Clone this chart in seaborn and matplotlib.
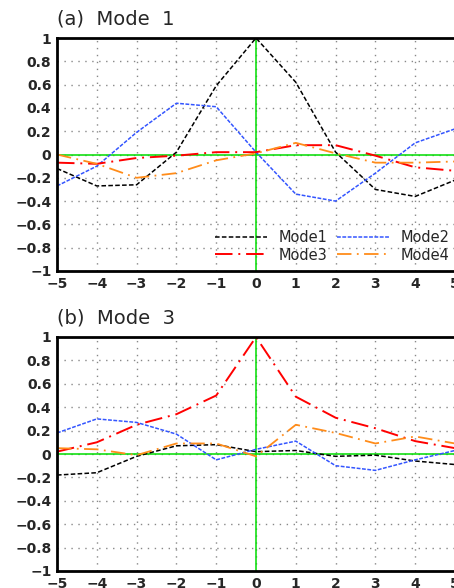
import numpy as np
import pandas as pd
import seaborn as sns
from matplotlib import pyplot as plt

# lags
lags = [-5, -4, -3, -2, -1, 0, 1, 2, 3, 4, 5]

# panel (a) Mode 1
a_mode1 = [-0.12, -0.27, -0.26, 0.02, 0.59, 1.0, 0.62, 0.02, -0.30, -0.36, -0.22]
a_mode2 = [-0.27, -0.10, 0.19, 0.44, 0.41, 0.02, -0.34, -0.40, -0.16, 0.10, 0.22]
a_mode3 = [-0.07, -0.08, -0.03, -0.01, 0.02, 0.02, 0.08, 0.08, -0.01, -0.11, -0.14]
a_mode4 = [0.0, -0.08, -0.20, -0.16, -0.05, 0.01, 0.10, 0.01, -0.07, -0.07, -0.06]

# panel (b) Mode 3
b_mode1 = [-0.18, -0.16, -0.02, 0.07, 0.08, 0.02, 0.03, -0.02, -0.01, -0.06, -0.09]
b_mode2 = [0.18, 0.30, 0.27, 0.17, -0.05, 0.04, 0.11, -0.10, -0.14, -0.05, 0.03]
b_mode3 = [0.02, 0.10, 0.25, 0.34, 0.50, 1.0, 0.49, 0.31, 0.22, 0.11, 0.05]
b_mode4 = [0.05, 0.04, -0.01, 0.09, 0.09, -0.02, 0.25, 0.18, 0.09, 0.15, 0.09]

series_names = ['Mode1', 'Mode2', 'Mode3', 'Mode4']
colors = ['black', '#3355ff', 'red', '#ff8c1a']
dashes = [(3, 1.5), (2.5, 1), (9, 3, 1, 3), (8, 3, 1, 3)]
widths = [1.1, 1.1, 1.4, 1.3]

sns.set_style('white')
plt.rcParams['font.family'] = ['DejaVu Sans']

fig = plt.figure(figsize=(4.54, 5.88), dpi=100)
ax1 = fig.add_axes([57 / 454, 1 - 271 / 588, 398 / 454, 233 / 588])
ax2 = fig.add_axes([57 / 454, 1 - 571 / 588, 398 / 454, 234 / 588])


def draw_panel(ax, values, title, legend=False):
    ax.axhline(0, color='#00dd00', lw=1.1, zorder=1)
    ax.axvline(0, color='#00dd00', lw=1.1, zorder=1)
    for name, vals, c, d, w in zip(series_names, values, colors, dashes, widths):
        df = pd.DataFrame({'lag': lags, 'corr': vals})
        line = sns.lineplot(data=df, x='lag', y='corr', ax=ax, color=c, lw=w, label=name, legend=False)
        line.lines[-1].set_dashes(d)
    ax.set_xlim(-5, 5)
    ax.set_ylim(-1, 1)
    ax.set_xticks(lags)
    ax.set_yticks(np.round(np.arange(-1, 1.01, 0.2), 1))
    ax.set_xticklabels(['\u22125', '\u22124', '\u22123', '\u22122', '\u22121', '0', '1', '2', '3', '4', '5'])
    ax.set_yticklabels(['\u22121', '\u22120.8', '\u22120.6', '\u22120.4', '\u22120.2', '0',
                        '0.2', '0.4', '0.6', '0.8', '1'])
    ax.set_xlabel('')
    ax.set_ylabel('')
    ax.grid(True, color='#888888', ls=(0, (1, 4)), lw=1.0)
    for s in ax.spines.values():
        s.set_linewidth(2.0)
        s.set_color('black')
    ax.tick_params(axis='both', direction='out', length=3, width=1.2, pad=1.0,
                   labelsize=10)
    for lab in ax.get_xticklabels() + ax.get_yticklabels():
        lab.set_fontweight('bold')
    ax.text(0.0, 1.04, title, transform=ax.transAxes, fontsize=14, ha='left', va='bottom')
    if legend:
        # row-wise order: Mode1 Mode2 / Mode3 Mode4
        handles, labels = ax.get_legend_handles_labels()
        order = [0, 2, 1, 3]
        ax.legend([handles[i] for i in order], [labels[i] for i in order],
                  loc='lower right', ncol=2, frameon=False, fontsize=10.5, handlelength=3.6,
                  columnspacing=0.6, handletextpad=0.8, labelspacing=0.2,
                  bbox_to_anchor=(1.02, -0.02))


draw_panel(ax1, [a_mode1, a_mode2, a_mode3, a_mode4], '(a)  Mode  1', legend=True)
draw_panel(ax2, [b_mode1, b_mode2, b_mode3, b_mode4], '(b)  Mode  3')

fig.savefig('out.png', dpi=100)
